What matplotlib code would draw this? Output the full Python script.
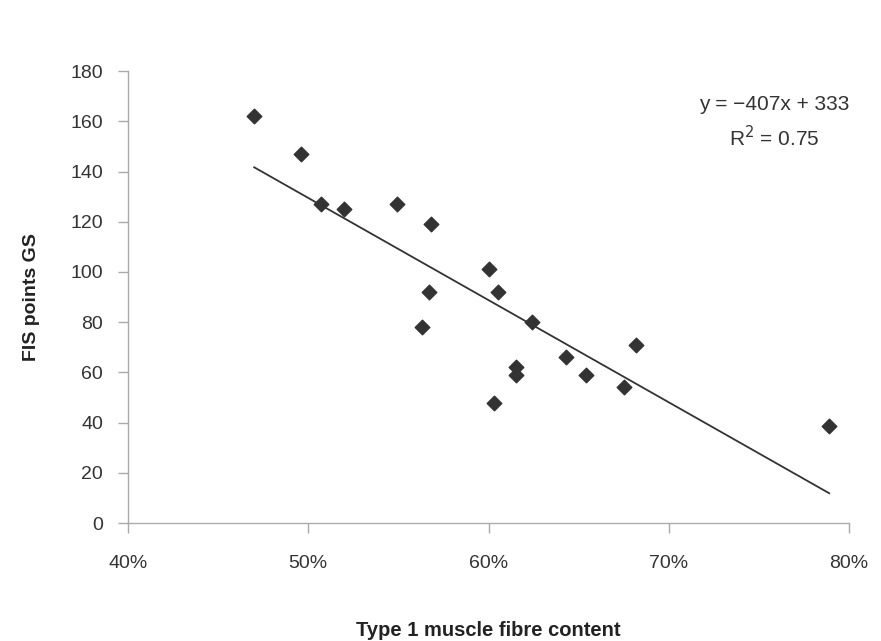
import numpy as np
import matplotlib
matplotlib.use("Agg")
import matplotlib.pyplot as plt
from matplotlib.ticker import PercentFormatter

# type 1 fibre content (fraction) vs FIS points
fibre = [0.470, 0.496, 0.507, 0.520, 0.549, 0.568, 0.600, 0.567, 0.605,
         0.563, 0.624, 0.615, 0.615, 0.603, 0.643, 0.654, 0.675, 0.682, 0.789]
fis = [162, 147, 127, 125, 127, 119, 101, 92, 92,
       78, 80, 62, 59, 48, 66, 59, 54, 71, 38.5]

slope, intercept = -407, 333
eq_text = "y = \u2212407x + 333"
r2_text = "R$^2$ = 0.75"

plt.rcParams["font.family"] = ["Liberation Sans", "DejaVu Sans"]

fig = plt.figure(figsize=(8.81, 6.41), dpi=100)
ax = fig.add_axes([0.1453, 0.184, 0.8184, 0.705])

x = np.array(fibre)
ax.scatter(x, fis, marker="D", s=55, color="#333333", zorder=3)

xl = np.array([x.min(), x.max()])
ax.plot(xl, slope * xl + intercept, color="#333333", lw=1.3, zorder=2)

ax.set_xlim(0.40, 0.80)
ax.set_ylim(0, 180)
ax.set_xticks([0.4, 0.5, 0.6, 0.7, 0.8])
ax.set_yticks(range(0, 181, 20))
ax.xaxis.set_major_formatter(PercentFormatter(1.0, decimals=0))

for s in ["top", "right"]:
    ax.spines[s].set_visible(False)
for s in ["left", "bottom"]:
    ax.spines[s].set_color("#aaaaaa")
    ax.spines[s].set_linewidth(1.0)

ax.tick_params(axis="both", colors="#aaaaaa", labelcolor="#333333",
               labelsize=14, length=7, width=1)
ax.tick_params(axis="x", pad=16)
ax.tick_params(axis="y", pad=11)

ax.set_xlabel("Type 1 muscle fibre content", fontsize=14.5, fontweight="bold",
              color="#222222", labelpad=35)
ax.set_ylabel("FIS points GS", fontsize=14, fontweight="bold",
              color="#222222", labelpad=22)

ax.text(0.896, 0.926, eq_text, transform=ax.transAxes, ha="center", va="center",
        fontsize=15, color="#333333")
ax.text(0.896, 0.852, r2_text, transform=ax.transAxes, ha="center", va="center",
        fontsize=15, color="#333333")

fig.savefig("out.png", dpi=100, facecolor="white")
